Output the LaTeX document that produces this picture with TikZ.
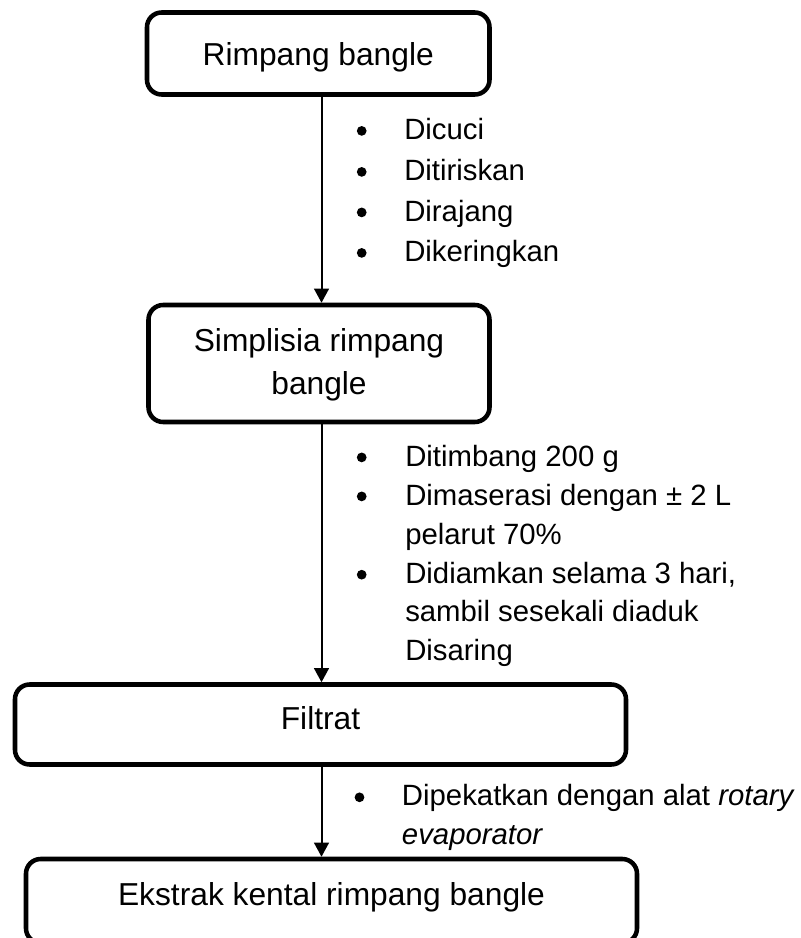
\documentclass[tikz,border=0pt]{standalone}
\usepackage{fontspec}
\setmainfont{Liberation Sans}
\usetikzlibrary{arrows.meta}
\def\px{0.75pt}
\begin{document}
\begin{tikzpicture}[x=0.75pt,y=-0.75pt,
  box/.style={draw, line width=3.4pt, rounded corners=11pt, inner sep=0pt},
  boxtext/.style={font=\fontsize{23.8pt}{28pt}\selectfont, inner sep=0pt, anchor=base},
  itemtext/.style={font=\fontsize{22pt}{26pt}\selectfont, inner sep=0pt, anchor=base west},
  dot/.style={circle, fill=black, inner sep=0pt, minimum size=7.3pt},
  arr/.style={line width=1.5pt, -{Triangle[width=11pt,length=10.5pt]}}]
\useasboundingbox (0,0) rectangle (800,938);
\clip (0,0) rectangle (800,938);
% boxes
\node[box, minimum width=342.5*\px, minimum height=82*\px] (b1) at (318.25,53.5) {};
\node[box, minimum width=341*\px, minimum height=117*\px] (b2) at (319,363.5) {};
\node[box, minimum width=611*\px, minimum height=80*\px] (b3) at (320.5,724.5) {};
\node[box, minimum width=611*\px, minimum height=84*\px] (b4) at (331.5,901) {};
% box texts
\node[boxtext] (t1) at (318.25,65.7) {Rimpang bangle};
\node[boxtext] (t2a) at (319,351.7) {Simplisia rimpang};
\node[boxtext] (t2b) at (319,394.5) {bangle};
\node[boxtext] (t3) at (320.5,729.3) {Filtrat};
\node[boxtext] (t4) at (331.5,905) {Ekstrak kental rimpang bangle};
% arrows
\coordinate (ax) at (321.5,0);
\draw[arr] (b1.south -| ax) -- (b2.north -| ax);
\draw[arr] (b2.south -| ax) -- (b3.north -| ax);
\draw[arr] (b3.south -| ax) -- (b4.north -| ax);
% list 1
\node[dot] (d11) at (361.7,130.9) {};
\node[itemtext] (i11) at (404,139.5) {Dicuci};
\node[dot] (d12) at (361.7,171.9) {};
\node[itemtext] (i12) at (404,180.5) {Ditiriskan};
\node[dot] (d13) at (361.7,212.4) {};
\node[itemtext] (i13) at (404,221) {Dirajang};
\node[dot] (d14) at (361.7,252.9) {};
\node[itemtext] (i14) at (404,261.5) {Dikeringkan};
% list 2
\node[dot] (d21) at (361.7,457.4) {};
\node[itemtext] (i21) at (405,466) {Ditimbang 200 g};
\node[dot] (d22) at (361.7,496.4) {};
\node[itemtext] (i22) at (405,505) {Dimaserasi dengan ± 2 L};
\node[itemtext] (i23) at (405,544) {pelarut 70\%};
\node[dot] (d24) at (361.7,574.7) {};
\node[itemtext] (i24) at (405,583.3) {Didiamkan selama 3 hari,};
\node[itemtext] (i25) at (405,621.7) {sambil sesekali diaduk};
\node[itemtext] (i26) at (405,660) {Disaring};
% list 3
\node[dot] (d31) at (359.5,797.3) {};
\node[itemtext] (i31) at (401.7,805) {Dipekatkan dengan alat \textit{rotary}};
\node[itemtext] (i32) at (401.7,844.5) {\textit{evaporator}};
\end{tikzpicture}
\end{document}
